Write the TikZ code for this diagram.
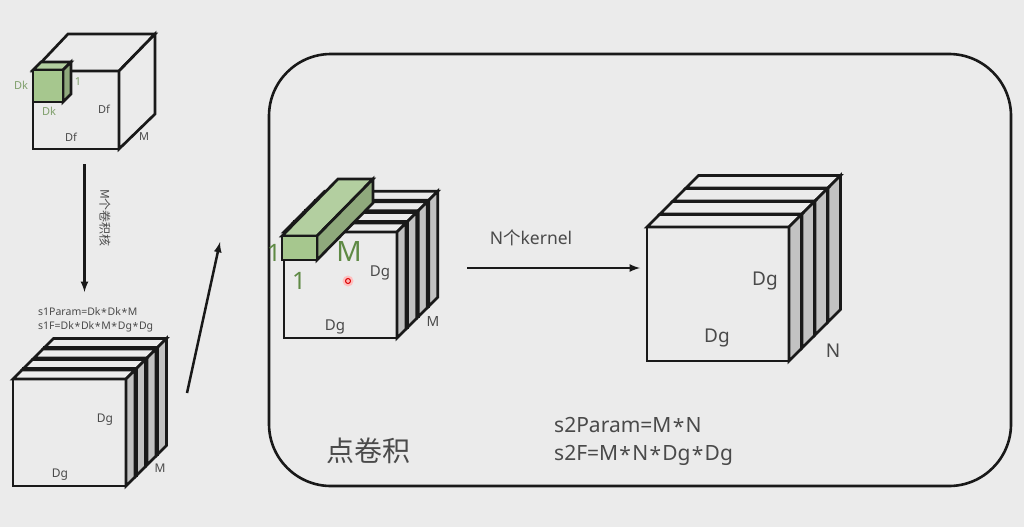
\documentclass[tikz,border=0pt]{standalone}
\usepackage{fontspec}
\setmainfont{Noto Sans}
\newfontfamily\cjk{Noto Sans CJK SC}
\usepackage{xcolor}
\usetikzlibrary{positioning}

\definecolor{bgpage}{HTML}{EBEBEB}
\definecolor{sidegray}{HTML}{C2C2C2}
\definecolor{txtgray}{HTML}{4A4A4A}
\definecolor{txtgreen}{HTML}{7F9F6B}
\definecolor{darkgreen}{HTML}{5F8A45}
\definecolor{frontgreen}{HTML}{A6C78E}
\definecolor{topgreen}{HTML}{B3CFA0}
\definecolor{sidegreen}{HTML}{8FA97C}

\tikzset{
    edgeline/.style = {draw=black!90, line width=2.7pt, line join=miter},
    txt/.style = {text=txtgray, inner sep=0pt},
    arrowline/.style = {-latex, black!90, line width=2.5pt},
}

\newcommand{\st}{\kern0.06em\raisebox{-0.22ex}{*}\kern0.06em}

% x, y, width, height, depth, shift between the slices
\newcommand{\stackcube}[6]{
    \foreach \k in {3,2,1,0} {
        \begin{scope}[shift={(\k*#6,-\k*#6)}]
            \filldraw[edgeline, fill=bgpage] (#1,#2) rectangle ++(#3,#4);
            \filldraw[edgeline, fill=bgpage] (#1,#2) -- ++(#5,-#5) -- ++(#3,0) -- ++(-#5,#5) -- cycle;
            \filldraw[edgeline, fill=sidegray] (#1+#3,#2) -- ++(#5,-#5) -- ++(0,#4) -- ++(-#5,#5) -- cycle;
        \end{scope}
    }
}

\begin{document}
\begin{tikzpicture}[x=1pt, y=-1pt]
    \fill[bgpage] (0,0) rectangle (1024,527);
    \useasboundingbox (0,0) rectangle (1024,527);

    % big frame
    \node[draw=black!90, line width=2.6pt, rounded corners=62pt, minimum width=742pt, minimum height=432pt, inner sep=0pt] (frame) at (640,270) {};

    % first cube
    \filldraw[edgeline, fill=bgpage] (33,71) rectangle (119,149);
    \filldraw[edgeline, fill=bgpage] (33,71) -- (68,34) -- (155,34) -- (119,71) -- cycle;
    \filldraw[edgeline, fill=bgpage] (119,71) -- (155,34) -- (155,114) -- (119,149) -- cycle;
    \filldraw[edgeline, fill=topgreen] (33,70) -- (41,62) -- (71,62) -- (63,70) -- cycle;
    \filldraw[edgeline, fill=sidegreen] (63,70) -- (71,62) -- (71,94) -- (63,102) -- cycle;
    \filldraw[edgeline, fill=frontgreen] (33,70) rectangle (63,102);

    \node[txt, text=txtgreen, font=\fontsize{11}{13}\selectfont] (dk1) at (21,85) {Dk};
    \node[txt, text=txtgreen, font=\fontsize{11}{13}\selectfont] (one1) at (78,82) {1};
    \node[txt, text=txtgreen, font=\fontsize{11}{13}\selectfont] (dk2) at (49,111) {Dk};
    \node[txt, font=\fontsize{11}{13}\selectfont] (df1) at (104,109) {Df};
    \node[txt, font=\fontsize{11}{13}\selectfont] (df2) at (71,137) {Df};
    \node[txt, font=\fontsize{11}{13}\selectfont] (m1) at (144,137) {M};

    \coordinate (a1) at (84.5,164);
    \coordinate (a2) at (84.5,292);
    \path[arrowline] (a1) edge (a2);
    \node[txt, rotate=-90, font=\cjk\fontsize{12}{13}\selectfont] (mkernel) at (105,218) {M个卷积核};

    \node[txt, anchor=west, font=\fontsize{10.5}{13}\selectfont] (s1param) at (38,312) {s1Param=Dk\st Dk\st M};
    \node[txt, anchor=west, font=\fontsize{10.5}{13}\selectfont] (s1f) at (38,327) {s1F=Dk\st Dk\st M\st Dg\st Dg};

    % left stack
    \stackcube{13}{379}{113}{107}{9}{10.5}
    \node[txt, font=\fontsize{12}{14}\selectfont] (dg1) at (105,420) {Dg};
    \node[txt, font=\fontsize{12}{14}\selectfont] (dg2) at (60,475) {Dg};
    \node[txt, font=\fontsize{12}{14}\selectfont] (m2) at (160,468) {M};

    \coordinate (b1) at (187,393);
    \coordinate (b2) at (220,242);
    \path[arrowline] (b1) edge (b2);

    % middle stack
    \stackcube{284}{232}{113}{106}{9}{10.6}
    \filldraw[edgeline, fill=topgreen] (282,236) -- (338,179) -- (373,179) -- (317,236) -- cycle;
    \filldraw[edgeline, fill=sidegreen] (317,236) -- (373,179) -- (373,203) -- (317,260) -- cycle;
    \filldraw[edgeline, fill=frontgreen] (282,236) rectangle (317,260);

    \node[txt, text=darkgreen, font=\fontsize{24}{26}\selectfont] (one2) at (274,253) {1};
    \node[txt, text=darkgreen, font=\fontsize{28}{30}\selectfont] (m3) at (349,252) {M};
    \node[txt, text=darkgreen, font=\fontsize{24}{26}\selectfont] (one3) at (299,281) {1};
    \node[txt, font=\fontsize{15}{17}\selectfont] (dg3) at (380,273) {Dg};
    \node[txt, font=\fontsize{15}{17}\selectfont] (dg4) at (335,327) {Dg};
    \node[txt, font=\fontsize{14}{16}\selectfont] (m4) at (433,321) {M};

    % pointer
    \node[circle, fill=red!25, minimum size=11pt, inner sep=0pt] (halo) at (348,281) {};
    \node[circle, draw=red!85!black, fill=red!30, line width=1pt, minimum size=5pt, inner sep=0pt] (dot) at (348,281) {};

    \coordinate (c1) at (467,268);
    \coordinate (c2) at (640,268);
    \path[arrowline] (c1) edge (c2);
    \node[txt, font=\fontsize{17.5}{20}\selectfont] (nkernel) at (531,238) {N{\cjk 个}kernel};

    % right stack
    \stackcube{647}{227}{142}{134}{12.5}{13}
    \node[txt, font=\fontsize{19}{21}\selectfont] (dg5) at (765,281) {Dg};
    \node[txt, font=\fontsize{19}{21}\selectfont] (dg6) at (717,338) {Dg};
    \node[txt, font=\fontsize{19}{21}\selectfont] (n1) at (833,351) {N};

    \node[txt, font=\cjk\fontsize{28}{30}\selectfont] (point) at (368,451) {点卷积};
    \node[txt, anchor=west, font=\fontsize{21}{24}\selectfont] (s2param) at (554,426) {s2Param=M\st N};
    \node[txt, anchor=west, font=\fontsize{21}{24}\selectfont] (s2f) at (554,455) {s2F=M\st N\st Dg\st Dg};
\end{tikzpicture}
\end{document}
